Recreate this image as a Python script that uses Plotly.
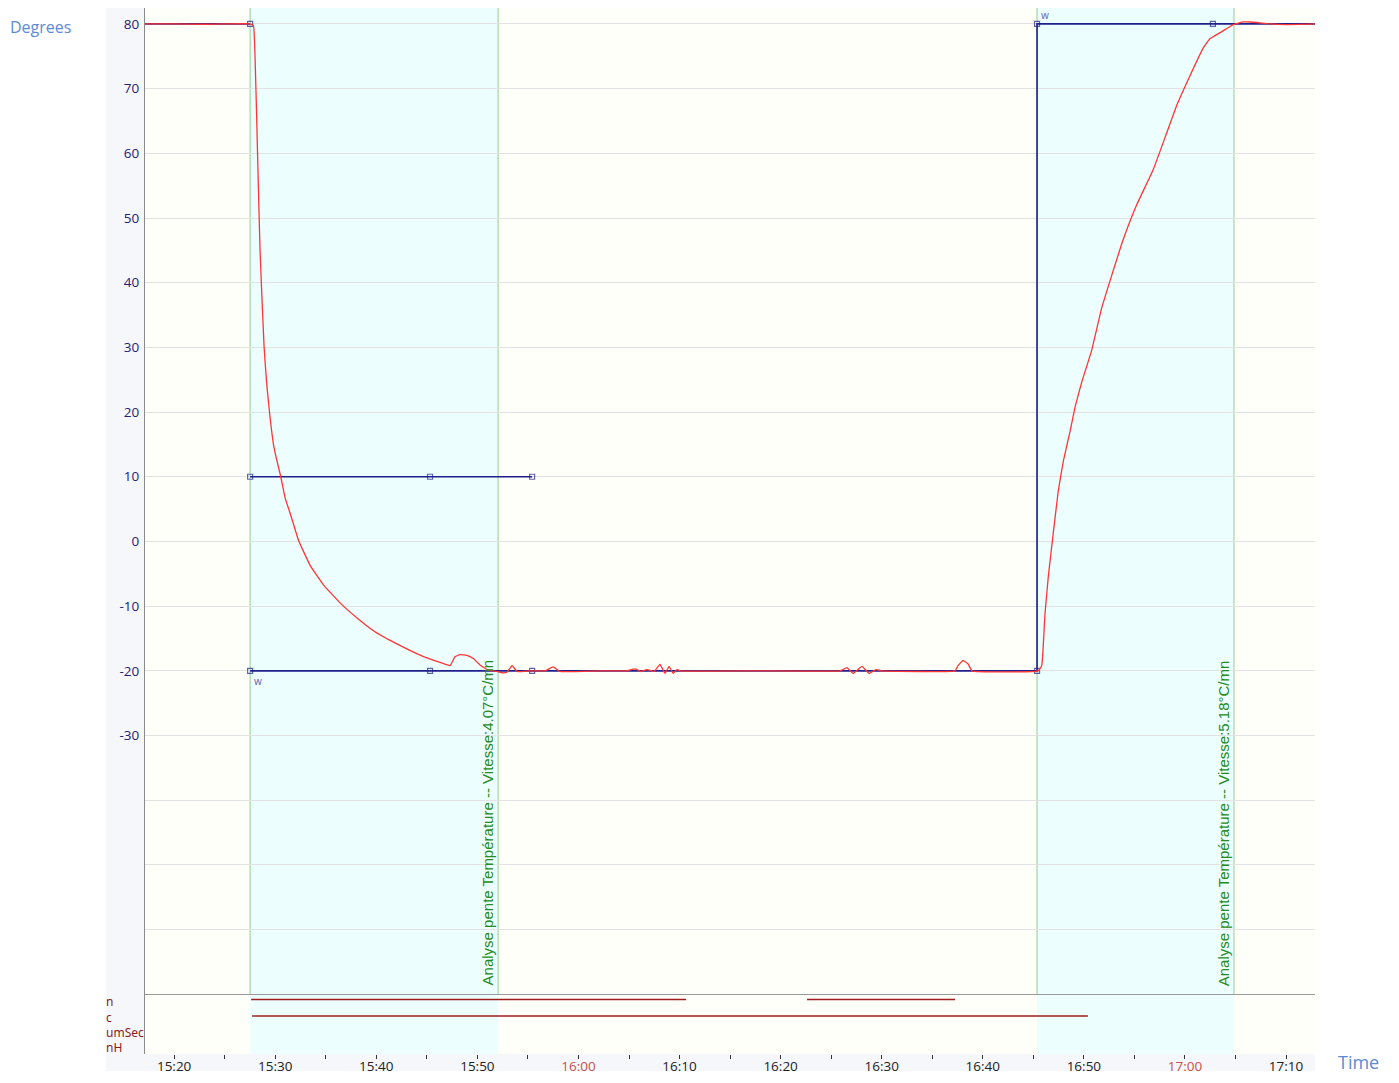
import plotly.graph_objects as go

# page has an 8px body margin: build the figure so that it fits inside it
OFF = 8
W, H = 1399 - 2 * OFF, 1083 - 2 * OFF
DAY = "2024-01-01 "

# ---------------- data ----------------
temp_times = [
    "15:17:07", "15:20:00", "15:23:00", "15:25:00", "15:27:31", "15:27:51",
    "15:28:01", "15:28:11", "15:28:20", "15:28:30", "15:28:40", "15:28:54",
    "15:29:10", "15:29:30", "15:29:49", "15:30:09", "15:30:33", "15:30:59",
    "15:31:28", "15:32:18", "15:33:27", "15:34:46", "15:36:25", "15:38:04",
    "15:39:43", "15:41:22", "15:43:01", "15:44:40", "15:46:19", "15:47:18",
    "15:47:48", "15:48:17", "15:48:57", "15:49:36", "15:50:16", "15:51:05",
    "15:51:55",
    "15:52:27", "15:52:56", "15:53:26", "15:53:56", "15:55:13",
    "15:56:42", "15:57:29", "15:58:11", "16:02:08", "16:04:49", "16:05:36",
    "16:06:11", "16:06:47", "16:07:29", "16:08:04", "16:08:34", "16:08:58",
    "16:09:22", "16:09:45", "16:10:03", "16:17:58", "16:25:53", "16:26:34",
    "16:27:10", "16:28:03", "16:28:45", "16:29:26", "16:30:02", "16:37:15",
    "16:37:33", "16:38:03", "16:38:32", "16:38:56", "16:45:29",
    "16:45:50", "16:46:09", "16:46:29", "16:46:58", "16:47:28", "16:47:58",
    "16:48:38", "16:49:07", "16:49:47", "16:50:46", "16:51:46", "16:52:45",
    "16:53:54", "16:55:13", "16:56:52", "16:58:11", "16:59:11", "17:00:30",
    "17:01:49", "17:02:28", "17:03:38", "17:04:47", "17:05:46", "17:06:26",
    "17:08:30", "17:10:00", "17:12:52",
]
temp_values = [
    80.0, 80.0, 79.95, 80.0, 80.0, 79.7,
    74.2, 64.4, 54.7, 45.0, 38.4, 30.0,
    24.2, 19.0, 15.1, 12.6, 10.0, 6.7,
    4.4, 0.2, -3.7, -6.7, -9.5, -11.8,
    -13.8, -15.3, -16.6, -17.8, -18.7, -19.2,
    -17.8, -17.5, -17.6, -18.1, -19.1, -19.9,
    -20.1,
    -20.3, -20.2, -19.2, -20.1, -20.0,
    -20.0, -19.4, -20.1, -20.0, -20.0, -19.7,
    -20.1, -19.8, -20.1, -19.0, -20.4, -19.3,
    -20.4, -19.8, -20.0, -20.0, -20.0, -19.5,
    -20.4, -19.3, -20.4, -19.8, -20.0, -20.0,
    -19.2, -18.4, -18.9, -20.0, -20.0,
    -19.2, -11.3, -5.4, 1.2, 7.8, 12.4,
    17.0, 20.7, 24.6, 29.5, 36.1, 41.1,
    46.7, 52.0, 57.5, 63.1, 67.4, 72.0,
    76.3, 77.7, 78.8, 79.9, 80.3, 80.3,
    80.0, 79.9, 80.0,
]

setpoint_times = ["15:17:07", "15:27:31", None,
                  "15:27:31", "15:45:19", "15:55:25", None,
                  "15:27:31", "15:45:19", "15:55:25", "16:45:22",
                  "16:45:22", "17:02:46", "17:12:52"]
setpoint_values = [80, 80, None,
                   10, 10, 10, None,
                   -20, -20, -20, -20,
                   80, 80, 80]
setpoint_marked = [0, 1, 0, 1, 1, 1, 0, 1, 1, 1, 1, 1, 1, 0]

band_starts = ["15:27:31", "16:45:22"]
band_ends = ["15:52:03", "17:04:51"]
speeds = ["4.07", "5.18"]

event_times = ["15:27:37", "16:10:39", None, "16:22:37", "16:37:15", None,
               "15:27:43", "16:50:24"]
event_levels = [3.65, 3.65, None, 3.65, 3.65, None, 2.55, 2.55]

channel_labels = ["n", "c", "umSec", "nH"]
channel_levels = [3.53, 2.47, 1.47, 0.47]

y_ticks = list(range(-60, 81, 10))
x_tick_times = ["15:20", "15:25", "15:30", "15:35", "15:40", "15:45", "15:50",
                "15:55", "16:00", "16:05", "16:10", "16:15", "16:20", "16:25",
                "16:30", "16:35", "16:40", "16:45", "16:50", "16:55", "17:00",
                "17:05", "17:10"]
x_range = ["15:17:07", "17:12:52"]

# ---------------- helpers ----------------
def t(s):
    return None if s is None else DAY + s

def px_x(p):
    return min(1.0, max(0.0, (p - OFF) / W))

def px_y(p):
    return min(1.0, max(0.0, 1 - (p - OFF) / H))

X0, X1 = 145, 1315
MAIN_TOP, MAIN_BOT = 8, 998
SUB_BOT = 1058
Y_TOP = 80 + (24 - MAIN_TOP) / 6.5

NAVY = "#1f1f8c"
RED = "#ff3535"
GREEN_LINE = "#94cc94"
GREEN_TEXT = "#228b22"
CYAN = "#edfeff"
DARKRED = "#a01c1c"
LABEL_BLUE = "#5b8ad6"

fig = go.Figure()

fig.add_trace(go.Scatter(
    x=[t(s) for s in setpoint_times], y=setpoint_values, mode="lines+markers",
    line=dict(color=NAVY, width=1.6),
    marker=dict(symbol="square-open", size=[5 if m else 0 for m in setpoint_marked],
                color=NAVY, line=dict(width=1.2, color=NAVY)),
    connectgaps=False, hoverinfo="skip", showlegend=False, xaxis="x", yaxis="y",
    cliponaxis=False))

fig.add_trace(go.Scatter(
    x=[t(s) for s in temp_times], y=temp_values, mode="lines",
    line=dict(color=RED, width=1.3, shape="spline", smoothing=0.3),
    hoverinfo="skip", showlegend=False, xaxis="x", yaxis="y"))

fig.add_trace(go.Scatter(
    x=[t(s) for s in event_times], y=event_levels, mode="lines",
    line=dict(color=DARKRED, width=1.5), connectgaps=False,
    hoverinfo="skip", showlegend=False, xaxis="x2", yaxis="y2"))

shapes = []
shapes.append(dict(type="rect", xref="paper", yref="paper", layer="below",
                   x0=px_x(106), x1=px_x(X0), y0=0, y1=px_y(MAIN_TOP),
                   fillcolor="#f6f7fb", line=dict(width=0)))
shapes.append(dict(type="rect", xref="paper", yref="paper", layer="below",
                   x0=px_x(106), x1=px_x(X1), y0=0, y1=px_y(SUB_BOT),
                   fillcolor="#f6f7fb", line=dict(width=0)))
for s0, s1 in zip(band_starts, band_ends):
    shapes.append(dict(type="rect", xref="x", yref="paper", layer="below",
                       x0=t(s0), x1=t(s1), y0=px_y(SUB_BOT), y1=px_y(MAIN_TOP),
                       fillcolor=CYAN, line=dict(width=0)))
for s in band_starts + band_ends:
    shapes.append(dict(type="line", xref="x", yref="paper", layer="below",
                       x0=t(s), x1=t(s), y0=px_y(MAIN_BOT), y1=px_y(MAIN_TOP),
                       line=dict(color=GREEN_LINE, width=1)))

annotations = []
for s1, sp in zip(band_ends, speeds):
    annotations.append(dict(
        x=t(s1), y=-69.0, xref="x", yref="y", xanchor="right", yanchor="bottom",
        text=f"Analyse pente Température -- Vitesse:{sp}°C/mn", textangle=-90,
        showarrow=False, xshift=0,
        font=dict(family="Liberation Sans, Arial", size=15, color=GREEN_TEXT)))
annotations.append(dict(x=t(band_starts[0]), y=-20, xref="x", yref="y",
                        xanchor="left", yanchor="top", text="w", showarrow=False,
                        xshift=2, yshift=-1,
                        font=dict(family="Noto Sans", size=10, color="#6a6ab8")))
annotations.append(dict(x=t(band_starts[1]), y=80, xref="x", yref="y",
                        xanchor="left", yanchor="bottom", text="w", showarrow=False,
                        xshift=2, yshift=0,
                        font=dict(family="Noto Sans", size=10, color="#6a6ab8")))
annotations.append(dict(x=px_x(6), y=px_y(27), xref="paper", yref="paper",
                        xanchor="left", yanchor="middle", text="Degrees",
                        showarrow=False,
                        font=dict(family="Open Sans", size=16, color=LABEL_BLUE)))
annotations.append(dict(x=px_x(1336), y=px_y(1066), xref="paper", yref="paper",
                        xanchor="left", yanchor="middle", text="Time",
                        showarrow=False,
                        font=dict(family="Open Sans", size=18, color=LABEL_BLUE)))
for lab, lvl in zip(channel_labels, channel_levels):
    annotations.append(dict(x=px_x(104), y=lvl, xref="paper", yref="y2",
                            xanchor="left", yanchor="middle", text=lab,
                            showarrow=False,
                            font=dict(family="Noto Sans", size=12, color="#8b1a1a")))

def tick_text(s):
    mm = s.split(":")[1]
    if mm.endswith("5"):
        return ""
    if mm == "00":
        return f'<span style="color:#c8504a">{s}</span>'
    return s

fig.update_layout(
    width=W, height=H,
    margin=dict(l=0, r=0, t=0, b=0),
    paper_bgcolor="white",
    plot_bgcolor="#fffffa",
    shapes=shapes, annotations=annotations,
    xaxis=dict(domain=[px_x(X0), px_x(X1)], anchor="y", matches="x2",
               range=[t(x_range[0]), t(x_range[1])], showticklabels=False,
               showgrid=False, showline=True, linecolor="#9a9a9a", linewidth=1,
               zeroline=False, ticks=""),
    yaxis=dict(domain=[px_y(MAIN_BOT), px_y(MAIN_TOP)], anchor="x",
               range=[-70, Y_TOP], tickvals=y_ticks,
               ticktext=["" if v < -30 else str(v) for v in y_ticks],
               showgrid=True, gridcolor="#e2e2e2", gridwidth=1,
               showline=True, linecolor="#8a8a8a", linewidth=1,
               zeroline=False, ticks="", ticklabelstandoff=2,
               tickfont=dict(family="Open Sans", size=13.5, color="#22227a")),
    xaxis2=dict(domain=[px_x(X0), px_x(X1)], anchor="y2",
                range=[t(x_range[0]), t(x_range[1])],
                tickvals=[t(s) for s in x_tick_times],
                ticktext=[tick_text(s) for s in x_tick_times],
                ticks="outside", ticklen=4, tickcolor="#333", tickwidth=1,
                ticklabelstandoff=-4,
                showgrid=False, showline=False, zeroline=False,
                tickfont=dict(family="Open Sans", size=13.5, color="#222")),
    yaxis2=dict(domain=[px_y(SUB_BOT), px_y(MAIN_BOT)], anchor="x2",
                range=[0, 4], showticklabels=False, showgrid=False,
                showline=True, linecolor="#8a8a8a", linewidth=1,
                zeroline=False, ticks=""),
)

fig.write_html("out.html")
